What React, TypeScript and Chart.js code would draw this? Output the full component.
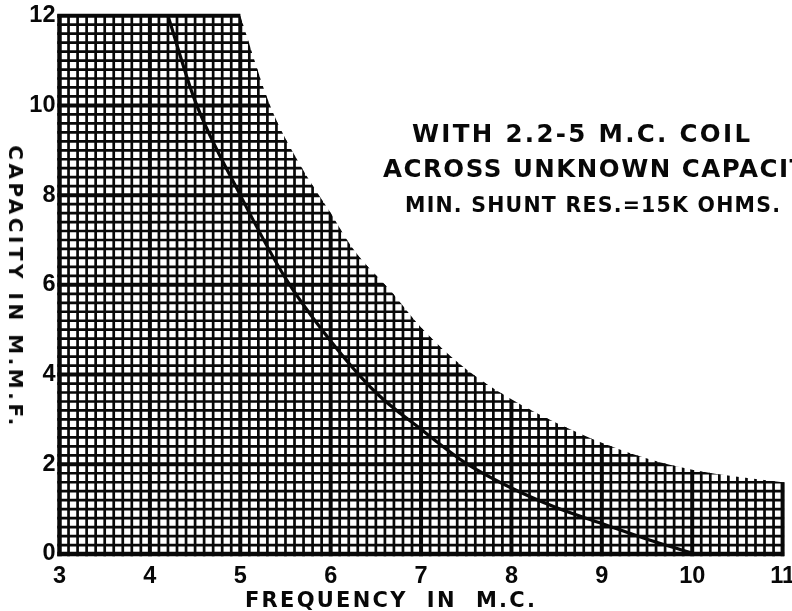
import React, { useEffect, useLayoutEffect, useRef } from 'react';
import { Chart, registerables } from 'chart.js';

Chart.register(...registerables);

// ---- data ----
const xTickLabels = [3, 4, 5, 6, 7, 8, 9, 10, 11];
const yTickLabels = [0, 2, 4, 6, 8, 10, 12];
const xMinorStep = 0.1;
const yMinorStep = 0.2;

// main curve: capacity vs frequency
const curveFreq = [4.2, 4.5, 5.0, 5.5, 6.0, 6.5, 7.0, 7.5, 8.0, 8.5, 9.0, 9.5, 10.0];
const curveCap = [12, 10.1, 8.0, 6.15, 4.75, 3.6, 2.78, 2.02, 1.47, 1.03, 0.68, 0.33, 0.02];

// upper edge of the ruled (valid) region
const boundaryFreq = [5.0, 5.33, 5.67, 6.0, 6.25, 6.67, 7.0, 7.5, 8.0, 8.5, 9.0, 9.5, 10.0, 10.5, 11.0];
const boundaryCap = [12, 10.0, 8.65, 7.6, 6.8, 5.85, 5.05, 4.12, 3.45, 2.92, 2.48, 2.13, 1.88, 1.72, 1.6];

const noteLines = ['WITH 2.2-5 M.C. COIL', 'ACROSS UNKNOWN CAPACITY', 'MIN. SHUNT RES.=15K OHMS.'];
const xTitle = 'FREQUENCY  IN  M.C.';
const yTitle = 'CAPACITY IN M.M.F.';

const INK = '#080808';
const FONT = '"DejaVu Sans", "Noto Sans", sans-serif';
const TICK_FONT = '"Liberation Sans", "DejaVu Sans", sans-serif';

function buildTicks(labels: number[], step: number) {
  const min = labels[0];
  const max = labels[labels.length - 1];
  const n = Math.round((max - min) / step);
  const out: { value: number }[] = [];
  for (let i = 0; i <= n; i++) out.push({ value: Math.round((min + i * step) * 1000) / 1000 });
  return out;
}
const isMajor = (v: number, labels: number[]) => labels.some((l) => Math.abs(l - v) < 1e-6);

const clippedGrid = {
  id: 'clippedGrid',
  beforeDatasetsDraw(chart: any) {
    const { ctx, chartArea } = chart;
    const xs = chart.scales.x;
    const ys = chart.scales.y;
    const meta = chart.getDatasetMeta(1);
    const line = meta.dataset;
    if (line && typeof line.updateControlPoints === 'function') line.updateControlPoints(chartArea, 'x');
    const pts = meta.data;
    if (!pts || !pts.length) return;
    const left = xs.getPixelForValue(xTickLabels[0]);
    const right = xs.getPixelForValue(xTickLabels[xTickLabels.length - 1]);
    const bottom = ys.getPixelForValue(yTickLabels[0]);
    const top = ys.getPixelForValue(yTickLabels[yTickLabels.length - 1]);
    const pad = 3;
    ctx.save();
    ctx.beginPath();
    ctx.moveTo(left - pad, bottom + pad);
    ctx.lineTo(left - pad, top - pad);
    ctx.lineTo(pts[0].x, top - pad);
    ctx.lineTo(pts[0].x, pts[0].y);
    for (let i = 1; i < pts.length; i++) {
      const p = pts[i - 1];
      const c = pts[i];
      if (p.cp2x !== undefined && c.cp1x !== undefined) {
        ctx.bezierCurveTo(p.cp2x, p.cp2y, c.cp1x, c.cp1y, c.x, c.y);
      } else {
        ctx.lineTo(c.x, c.y);
      }
    }
    const last = pts[pts.length - 1];
    ctx.lineTo(last.x + pad, last.y);
    ctx.lineTo(right + pad, bottom + pad);
    ctx.closePath();
    ctx.clip();

    ctx.strokeStyle = INK;
    ctx.lineCap = 'butt';
    const drawV = (pass: number) => {
      for (const t of xs.ticks) {
        const major = isMajor(t.value, xTickLabels);
        if ((pass === 0) === major) continue;
        const px = xs.getPixelForValue(t.value);
        let w = major ? 4 : 2.7;
        if (Math.abs(t.value - xTickLabels[0]) < 1e-6) w = 4.5;
        ctx.lineWidth = w;
        ctx.beginPath();
        ctx.moveTo(px, bottom + 2.2);
        ctx.lineTo(px, top - 1.5);
        ctx.stroke();
      }
    };
    const drawH = (pass: number) => {
      for (const t of ys.ticks) {
        const major = isMajor(t.value, yTickLabels);
        if ((pass === 0) === major) continue;
        const py = ys.getPixelForValue(t.value);
        let w = major ? 4 : 2.7;
        if (Math.abs(t.value - yTickLabels[0]) < 1e-6) w = 4.5;
        ctx.lineWidth = w;
        ctx.beginPath();
        ctx.moveTo(left - 2.2, py);
        ctx.lineTo(right + 1.5, py);
        ctx.stroke();
      }
    };
    drawV(0);
    drawH(0);
    drawV(1);
    drawH(1);
    ctx.restore();
  },
};

function FitText(props: {
  text: string;
  fit?: string;
  left: number;
  top: number;
  size: number;
  width: number;
  rotate?: boolean;
}) {
  const ref = useRef<HTMLDivElement>(null);
  const { text, fit, left, top, size, width, rotate } = props;
  useLayoutEffect(() => {
    const el = ref.current;
    if (!el) return;
    const c = document.createElement('canvas').getContext('2d');
    if (!c) return;
    c.font = `bold ${size}px ${FONT}`;
    const sample = fit ?? text;
    const w = c.measureText(sample).width;
    const ls = (width - w) / Math.max(1, sample.length - 1);
    el.style.letterSpacing = `${ls}px`;
  }, [text, fit, size, width]);
  const style: React.CSSProperties = {
    position: 'absolute',
    left,
    top,
    fontFamily: FONT,
    fontWeight: 'bold',
    fontSize: size,
    lineHeight: 1,
    whiteSpace: 'pre',
    color: INK,
  };
  if (rotate) {
    style.transform = 'translate(-50%, -50%) rotate(90deg)';
  }
  return (
    <div ref={ref} style={style}>
      {text}
    </div>
  );
}

const noPad = (s: any) => {
  s.paddingLeft = 0;
  s.paddingRight = 0;
  s.paddingTop = 0;
  s.paddingBottom = 0;
};

export default function App() {
  const canvasRef = useRef<HTMLCanvasElement>(null);

  useEffect(() => {
    const canvas = canvasRef.current;
    if (!canvas) return;
    const tickFont = { family: TICK_FONT, weight: 'bold' as const, size: 23.5 };
    const chart = new Chart(canvas, {
      type: 'scatter',
      data: {
        datasets: [
          {
            label: 'capacity',
            data: curveFreq.map((f, i) => ({ x: f, y: curveCap[i] })),
            showLine: true,
            borderColor: INK,
            borderWidth: 3.2,
            pointRadius: 0,
            cubicInterpolationMode: 'monotone',
            fill: false,
          },
          {
            label: 'limit',
            data: boundaryFreq.map((f, i) => ({ x: f, y: boundaryCap[i] })),
            showLine: true,
            borderColor: 'rgba(0,0,0,0)',
            borderWidth: 0,
            pointRadius: 0,
            cubicInterpolationMode: 'monotone',
            fill: false,
          },
        ],
      },
      options: {
        animation: false,
        responsive: true,
        maintainAspectRatio: false,
        events: [],
        layout: { autoPadding: false, padding: { top: 15.7, right: 9.4, bottom: 0, left: 0 } },
        plugins: {
          legend: { display: false },
          tooltip: { enabled: false },
          title: { display: false },
        },
        scales: {
          x: {
            type: 'linear',
            min: xTickLabels[0],
            max: xTickLabels[xTickLabels.length - 1],
            afterBuildTicks: (s: any) => {
              s.ticks = buildTicks(xTickLabels, xMinorStep);
            },
            afterFit: (s: any) => {
              s.height = 57;
              noPad(s);
            },
            grid: { display: false, drawTicks: false },
            border: { display: false },
            ticks: {
              autoSkip: false,
              maxRotation: 0,
              minRotation: 0,
              padding: 8,
              color: INK,
              font: tickFont,
              callback: (v: any) => (isMajor(Number(v), xTickLabels) ? String(Math.round(Number(v))) : ''),
            },
          },
          y: {
            type: 'linear',
            min: yTickLabels[0],
            max: yTickLabels[yTickLabels.length - 1],
            afterBuildTicks: (s: any) => {
              s.ticks = buildTicks(yTickLabels, yMinorStep);
            },
            afterFit: (s: any) => {
              s.width = 59.5;
              noPad(s);
            },
            grid: { display: false, drawTicks: false },
            border: { display: false },
            ticks: {
              autoSkip: false,
              padding: 4,
              color: INK,
              font: tickFont,
              callback: (v: any) => (isMajor(Number(v), yTickLabels) ? String(Math.round(Number(v))) : ''),
            },
          },
        },
      },
      plugins: [clippedGrid],
    } as any);
    return () => chart.destroy();
  }, []);

  return (
    <div
      style={{
        position: 'absolute',
        left: 0,
        top: 0,
        width: 792,
        height: 611,
        overflow: 'hidden',
        background: '#fff',
      }}
    >
      <div style={{ position: 'absolute', left: 0, top: 0, width: 792, height: 611 }}>
        <canvas ref={canvasRef} />
      </div>
      <FitText text={noteLines[0]} left={412} top={122} size={24.5} width={338} />
      <FitText text={noteLines[1]} fit="ACROSS UNKNOWN CAPACI" left={383} top={157} size={24.5} width={405} />
      <FitText text={noteLines[2]} left={405} top={194.6} size={20.5} width={375} />
      <FitText text={xTitle} left={245} top={589.5} size={21} width={290} />
      <FitText text={yTitle} left={15.5} top={287} size={20} width={280} rotate />
    </div>
  );
}
